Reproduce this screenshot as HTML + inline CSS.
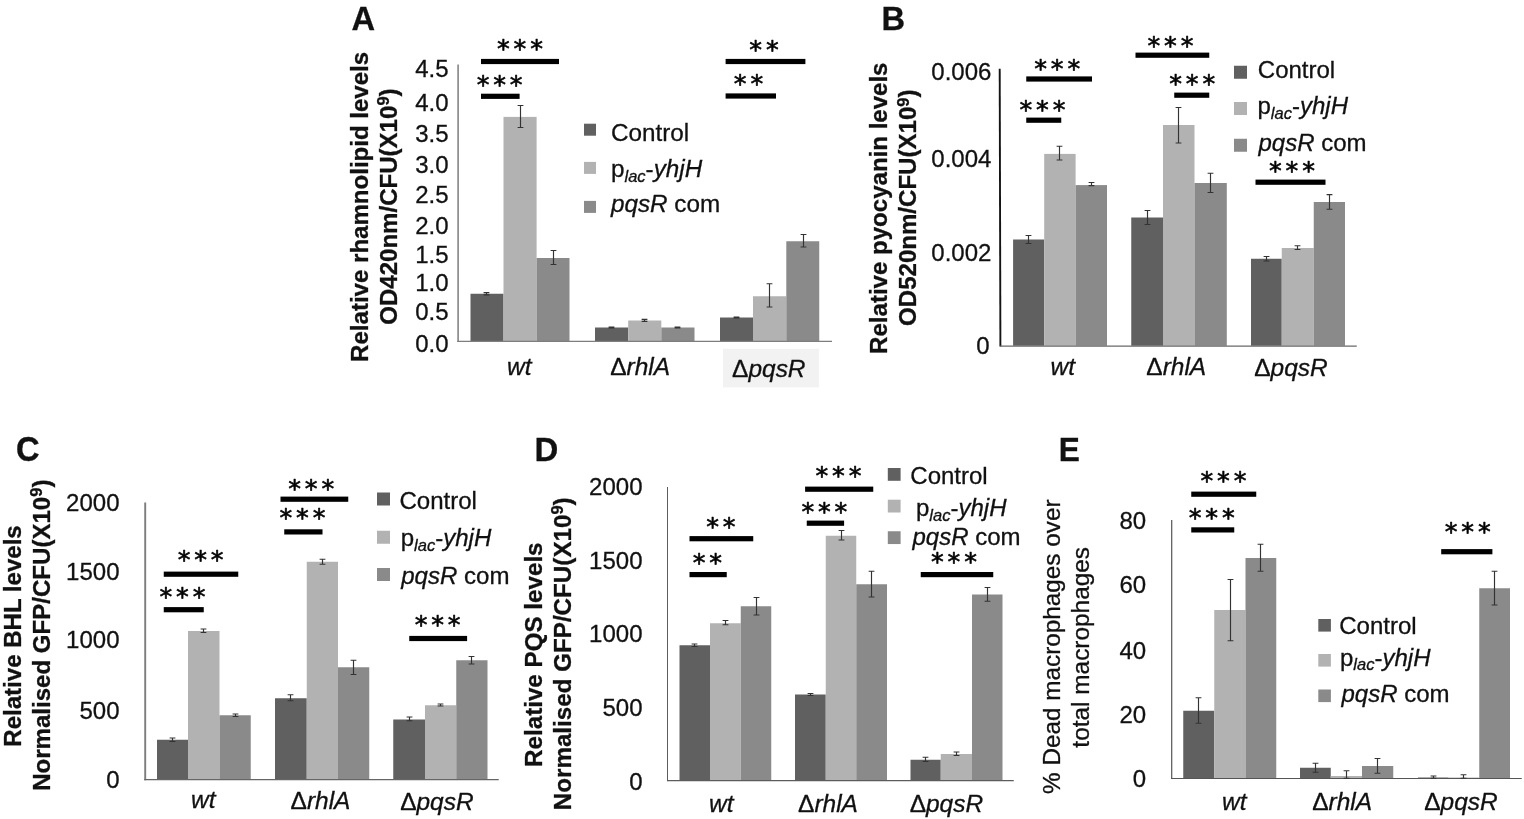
<!DOCTYPE html>
<html lang="en"><head><meta charset="utf-8"><title>Figure</title>
<style>
html,body{margin:0;padding:0;background:#fff;}
body{width:1524px;height:819px;overflow:hidden;font-family:'Liberation Sans', Arial, Helvetica, sans-serif;}
svg{display:block;}
svg text{font-family:'Liberation Sans', Arial, Helvetica, sans-serif;}
</style></head><body>
<svg width="1524" height="819" viewBox="0 0 1524 819">
<rect width="1524" height="819" fill="#ffffff"/>
<text transform="translate(351.50 30.00) scale(0.960 1)" font-size="34" font-weight="bold" fill="#111" stroke="#111" stroke-width="0.3">A</text>
<text transform="translate(368.00 206.85) rotate(-90) scale(1.000 1)" font-size="24.05" text-anchor="middle" font-weight="bold" fill="#111" stroke="#111" stroke-width="0.3">Relative rhamnolipid levels</text>
<text transform="translate(397.00 206.60) rotate(-90) scale(1.000 1)" font-size="24.05" text-anchor="middle" font-weight="bold" fill="#111" stroke="#111" stroke-width="0.3">OD420nm/CFU(X10<tspan font-size="16.5" dy="-7.8">9</tspan><tspan dy="7.8">)</tspan></text>
<rect x="723.00" y="348.75" width="95.90" height="38.65" fill="#f2f2f2"/>
<text transform="translate(448.60 352.10) scale(0.980 1)" font-size="24.5" text-anchor="end" fill="#111" stroke="#111" stroke-width="0.3">0.0</text>
<text transform="translate(448.60 319.70) scale(0.980 1)" font-size="24.5" text-anchor="end" fill="#111" stroke="#111" stroke-width="0.3">0.5</text>
<text transform="translate(448.60 290.60) scale(0.980 1)" font-size="24.5" text-anchor="end" fill="#111" stroke="#111" stroke-width="0.3">1.0</text>
<text transform="translate(448.60 262.70) scale(0.980 1)" font-size="24.5" text-anchor="end" fill="#111" stroke="#111" stroke-width="0.3">1.5</text>
<text transform="translate(448.60 234.30) scale(0.980 1)" font-size="24.5" text-anchor="end" fill="#111" stroke="#111" stroke-width="0.3">2.0</text>
<text transform="translate(448.60 203.40) scale(0.980 1)" font-size="24.5" text-anchor="end" fill="#111" stroke="#111" stroke-width="0.3">2.5</text>
<text transform="translate(448.60 173.40) scale(0.980 1)" font-size="24.5" text-anchor="end" fill="#111" stroke="#111" stroke-width="0.3">3.0</text>
<text transform="translate(448.60 141.60) scale(0.980 1)" font-size="24.5" text-anchor="end" fill="#111" stroke="#111" stroke-width="0.3">3.5</text>
<text transform="translate(448.60 111.00) scale(0.980 1)" font-size="24.5" text-anchor="end" fill="#111" stroke="#111" stroke-width="0.3">4.0</text>
<text transform="translate(448.60 77.30) scale(0.980 1)" font-size="24.5" text-anchor="end" fill="#111" stroke="#111" stroke-width="0.3">4.5</text>
<rect x="470.50" y="293.75" width="33.00" height="47.50" fill="#606060"/>
<rect x="503.50" y="116.90" width="33.10" height="224.35" fill="#b2b2b2"/>
<rect x="536.60" y="258.00" width="32.90" height="83.25" fill="#8a8a8a"/>
<rect x="595.00" y="327.50" width="33.20" height="13.75" fill="#606060"/>
<rect x="628.20" y="320.50" width="33.10" height="20.75" fill="#b2b2b2"/>
<rect x="661.30" y="327.50" width="33.20" height="13.75" fill="#8a8a8a"/>
<rect x="720.00" y="317.50" width="33.00" height="23.75" fill="#606060"/>
<rect x="753.00" y="296.25" width="33.30" height="45.00" fill="#b2b2b2"/>
<rect x="786.30" y="241.25" width="32.95" height="100.00" fill="#8a8a8a"/>
<line x1="458.10" y1="64.50" x2="458.10" y2="341.90" stroke="#858585" stroke-width="1.6"/>
<line x1="457.30" y1="341.40" x2="832.00" y2="341.40" stroke="#7e7e7e" stroke-width="1.1"/>
<path d="M486.50 292.60V294.80M483.60 292.60H489.40M483.60 294.80H489.40" stroke="#333" stroke-width="1.15" fill="none"/>
<path d="M520.50 105.50V127.50M517.60 105.50H523.40M517.60 127.50H523.40" stroke="#333" stroke-width="1.15" fill="none"/>
<path d="M553.50 250.50V264.50M550.60 250.50H556.40M550.60 264.50H556.40" stroke="#333" stroke-width="1.15" fill="none"/>
<path d="M611.50 327.00V328.00M608.60 327.00H614.40M608.60 328.00H614.40" stroke="#333" stroke-width="1.15" fill="none"/>
<path d="M644.50 319.30V321.30M641.60 319.30H647.40M641.60 321.30H647.40" stroke="#333" stroke-width="1.15" fill="none"/>
<path d="M677.50 327.00V328.00M674.60 327.00H680.40M674.60 328.00H680.40" stroke="#333" stroke-width="1.15" fill="none"/>
<path d="M736.50 317.00V318.00M733.60 317.00H739.40M733.60 318.00H739.40" stroke="#333" stroke-width="1.15" fill="none"/>
<path d="M769.50 283.75V307.00M766.60 283.75H772.40M766.60 307.00H772.40" stroke="#333" stroke-width="1.15" fill="none"/>
<path d="M803.50 234.50V247.00M800.60 234.50H806.40M800.60 247.00H806.40" stroke="#333" stroke-width="1.15" fill="none"/>
<text transform="translate(519.25 375.00) scale(1.020 1)" font-size="24" text-anchor="middle" font-style="italic" fill="#111" stroke="#111" stroke-width="0.3">wt</text>
<text transform="translate(640.20 375.00) scale(1.020 1)" font-size="24" text-anchor="middle" fill="#111" stroke="#111" stroke-width="0.3">Δ<tspan font-style="italic">rhlA</tspan></text>
<text transform="translate(768.80 377.20) scale(1.020 1)" font-size="24" text-anchor="middle" fill="#111" stroke="#111" stroke-width="0.3">Δ<tspan font-style="italic">pqsR</tspan></text>
<rect x="584.00" y="123.70" width="12.00" height="12.00" fill="#606060"/>
<rect x="584.00" y="161.90" width="12.00" height="12.00" fill="#b2b2b2"/>
<rect x="584.00" y="200.90" width="12.00" height="12.00" fill="#8a8a8a"/>
<text transform="translate(611.00 140.80) scale(1.000 1)" font-size="24.25" fill="#111" stroke="#111" stroke-width="0.3">Control</text>
<text transform="translate(611.00 177.10) scale(1.000 1)" font-size="24.25" fill="#111" stroke="#111" stroke-width="0.3">p<tspan font-style="italic" font-size="16.5" dy="4.5">lac</tspan><tspan dy="-4.5">-</tspan><tspan font-style="italic">yhjH</tspan></text>
<text transform="translate(611.00 212.40) scale(1.000 1)" font-size="24.25" fill="#111" stroke="#111" stroke-width="0.3"><tspan font-style="italic">pqsR</tspan> com</text>
<rect x="481.00" y="58.90" width="78.00" height="5.20" fill="#000"/>
<text x="521.90" y="57.10" style="font-family:'DejaVu Sans', 'Liberation Sans', sans-serif" font-size="25.5" letter-spacing="3.8" text-anchor="middle" fill="#000" stroke="#000" stroke-width="0.6" stroke-linejoin="round">***</text>
<rect x="481.00" y="93.70" width="38.60" height="5.20" fill="#000"/>
<text x="501.60" y="93.20" style="font-family:'DejaVu Sans', 'Liberation Sans', sans-serif" font-size="25.5" letter-spacing="3.8" text-anchor="middle" fill="#000" stroke="#000" stroke-width="0.6" stroke-linejoin="round">***</text>
<rect x="725.60" y="58.90" width="79.80" height="5.20" fill="#000"/>
<text x="765.90" y="57.50" style="font-family:'DejaVu Sans', 'Liberation Sans', sans-serif" font-size="25.5" letter-spacing="3.8" text-anchor="middle" fill="#000" stroke="#000" stroke-width="0.6" stroke-linejoin="round">**</text>
<rect x="725.60" y="93.40" width="50.40" height="5.20" fill="#000"/>
<text x="750.40" y="92.20" style="font-family:'DejaVu Sans', 'Liberation Sans', sans-serif" font-size="25.5" letter-spacing="3.8" text-anchor="middle" fill="#000" stroke="#000" stroke-width="0.6" stroke-linejoin="round">**</text>
<text transform="translate(881.60 29.80) scale(0.960 1)" font-size="34" font-weight="bold" fill="#111" stroke="#111" stroke-width="0.3">B</text>
<text transform="translate(886.80 208.20) rotate(-90) scale(1.000 1)" font-size="24.05" text-anchor="middle" font-weight="bold" fill="#111" stroke="#111" stroke-width="0.3">Relative pyocyanin levels</text>
<text transform="translate(916.30 207.70) rotate(-90) scale(1.000 1)" font-size="24.05" text-anchor="middle" font-weight="bold" fill="#111" stroke="#111" stroke-width="0.3">OD520nm/CFU(X10<tspan font-size="16.5" dy="-7.8">9</tspan><tspan dy="7.8">)</tspan></text>
<text transform="translate(989.50 354.40) scale(0.980 1)" font-size="24.5" text-anchor="end" fill="#111" stroke="#111" stroke-width="0.3">0</text>
<text transform="translate(991.40 260.90) scale(0.980 1)" font-size="24.5" text-anchor="end" fill="#111" stroke="#111" stroke-width="0.3">0.002</text>
<text transform="translate(991.40 167.40) scale(0.980 1)" font-size="24.5" text-anchor="end" fill="#111" stroke="#111" stroke-width="0.3">0.004</text>
<text transform="translate(991.40 79.90) scale(0.980 1)" font-size="24.5" text-anchor="end" fill="#111" stroke="#111" stroke-width="0.3">0.006</text>
<rect x="1013.10" y="239.50" width="31.10" height="106.25" fill="#606060"/>
<rect x="1044.20" y="153.90" width="31.40" height="191.85" fill="#b2b2b2"/>
<rect x="1075.60" y="185.10" width="31.40" height="160.65" fill="#8a8a8a"/>
<rect x="1131.25" y="217.50" width="31.75" height="128.25" fill="#606060"/>
<rect x="1163.00" y="125.00" width="31.50" height="220.75" fill="#b2b2b2"/>
<rect x="1194.50" y="183.00" width="32.30" height="162.75" fill="#8a8a8a"/>
<rect x="1251.00" y="258.75" width="30.75" height="87.00" fill="#606060"/>
<rect x="1281.75" y="248.00" width="32.00" height="97.75" fill="#b2b2b2"/>
<rect x="1313.75" y="202.00" width="31.25" height="143.75" fill="#8a8a8a"/>
<line x1="999.70" y1="68.75" x2="1000.40" y2="346.60" stroke="#141414" stroke-width="1.9"/>
<line x1="1000.00" y1="346.10" x2="1356.75" y2="346.10" stroke="#686868" stroke-width="1.1"/>
<path d="M1028.50 235.50V243.50M1025.60 235.50H1031.40M1025.60 243.50H1031.40" stroke="#333" stroke-width="1.15" fill="none"/>
<path d="M1059.50 146.25V160.00M1056.60 146.25H1062.40M1056.60 160.00H1062.40" stroke="#333" stroke-width="1.15" fill="none"/>
<path d="M1091.50 182.50V185.60M1088.60 182.50H1094.40M1088.60 185.60H1094.40" stroke="#333" stroke-width="1.15" fill="none"/>
<path d="M1147.50 210.50V224.50M1144.60 210.50H1150.40M1144.60 224.50H1150.40" stroke="#333" stroke-width="1.15" fill="none"/>
<path d="M1178.50 107.50V143.00M1175.60 107.50H1181.40M1175.60 143.00H1181.40" stroke="#333" stroke-width="1.15" fill="none"/>
<path d="M1210.50 173.25V192.50M1207.60 173.25H1213.40M1207.60 192.50H1213.40" stroke="#333" stroke-width="1.15" fill="none"/>
<path d="M1266.50 256.50V261.00M1263.60 256.50H1269.40M1263.60 261.00H1269.40" stroke="#333" stroke-width="1.15" fill="none"/>
<path d="M1297.50 245.75V249.50M1294.60 245.75H1300.40M1294.60 249.50H1300.40" stroke="#333" stroke-width="1.15" fill="none"/>
<path d="M1329.50 194.60V209.25M1326.60 194.60H1332.40M1326.60 209.25H1332.40" stroke="#333" stroke-width="1.15" fill="none"/>
<text transform="translate(1062.75 374.50) scale(1.020 1)" font-size="24" text-anchor="middle" font-style="italic" fill="#111" stroke="#111" stroke-width="0.3">wt</text>
<text transform="translate(1176.25 375.00) scale(1.020 1)" font-size="24" text-anchor="middle" fill="#111" stroke="#111" stroke-width="0.3">Δ<tspan font-style="italic">rhlA</tspan></text>
<text transform="translate(1291.00 376.00) scale(1.020 1)" font-size="24" text-anchor="middle" fill="#111" stroke="#111" stroke-width="0.3">Δ<tspan font-style="italic">pqsR</tspan></text>
<rect x="1234.00" y="65.75" width="13.00" height="13.00" fill="#606060"/>
<rect x="1234.00" y="102.00" width="13.00" height="13.00" fill="#b2b2b2"/>
<rect x="1234.00" y="138.75" width="13.00" height="13.00" fill="#8a8a8a"/>
<text transform="translate(1257.80 77.50) scale(1.000 1)" font-size="24.0" fill="#111" stroke="#111" stroke-width="0.3">Control</text>
<text transform="translate(1257.50 114.10) scale(1.000 1)" font-size="24.0" fill="#111" stroke="#111" stroke-width="0.3">p<tspan font-style="italic" font-size="16.5" dy="4.5">lac</tspan><tspan dy="-4.5">-</tspan><tspan font-style="italic">yhjH</tspan></text>
<text transform="translate(1258.50 150.60) scale(1.000 1)" font-size="24.0" fill="#111" stroke="#111" stroke-width="0.3"><tspan font-style="italic">pqsR</tspan> com</text>
<rect x="1026.25" y="76.40" width="65.75" height="5.20" fill="#000"/>
<text x="1059.15" y="77.10" style="font-family:'DejaVu Sans', 'Liberation Sans', sans-serif" font-size="25.5" letter-spacing="3.8" text-anchor="middle" fill="#000" stroke="#000" stroke-width="0.6" stroke-linejoin="round">***</text>
<rect x="1026.25" y="117.60" width="35.00" height="5.20" fill="#000"/>
<text x="1044.40" y="118.10" style="font-family:'DejaVu Sans', 'Liberation Sans', sans-serif" font-size="25.5" letter-spacing="3.8" text-anchor="middle" fill="#000" stroke="#000" stroke-width="0.6" stroke-linejoin="round">***</text>
<rect x="1135.50" y="52.60" width="73.75" height="5.20" fill="#000"/>
<text x="1172.40" y="54.00" style="font-family:'DejaVu Sans', 'Liberation Sans', sans-serif" font-size="25.5" letter-spacing="3.8" text-anchor="middle" fill="#000" stroke="#000" stroke-width="0.6" stroke-linejoin="round">***</text>
<rect x="1174.25" y="92.60" width="35.00" height="5.20" fill="#000"/>
<text x="1194.15" y="92.10" style="font-family:'DejaVu Sans', 'Liberation Sans', sans-serif" font-size="25.5" letter-spacing="3.8" text-anchor="middle" fill="#000" stroke="#000" stroke-width="0.6" stroke-linejoin="round">***</text>
<rect x="1255.50" y="179.60" width="70.00" height="5.20" fill="#000"/>
<text x="1293.90" y="179.30" style="font-family:'DejaVu Sans', 'Liberation Sans', sans-serif" font-size="25.5" letter-spacing="3.8" text-anchor="middle" fill="#000" stroke="#000" stroke-width="0.6" stroke-linejoin="round">***</text>
<text transform="translate(16.00 461.20) scale(0.940 1)" font-size="34.8" font-weight="bold" fill="#111" stroke="#111" stroke-width="0.3">C</text>
<text transform="translate(20.50 636.00) rotate(-90) scale(1.000 1)" font-size="24.05" text-anchor="middle" font-weight="bold" fill="#111" stroke="#111" stroke-width="0.3">Relative BHL levels</text>
<text transform="translate(49.50 635.20) rotate(-90) scale(1.000 1)" font-size="24.05" text-anchor="middle" font-weight="bold" fill="#111" stroke="#111" stroke-width="0.3">Normalised GFP/CFU(X10<tspan font-size="16.5" dy="-7.8">9</tspan><tspan dy="7.8">)</tspan></text>
<text transform="translate(119.50 787.90) scale(0.980 1)" font-size="24.5" text-anchor="end" fill="#111" stroke="#111" stroke-width="0.3">0</text>
<text transform="translate(119.50 718.60) scale(0.980 1)" font-size="24.5" text-anchor="end" fill="#111" stroke="#111" stroke-width="0.3">500</text>
<text transform="translate(119.50 648.20) scale(0.980 1)" font-size="24.5" text-anchor="end" fill="#111" stroke="#111" stroke-width="0.3">1000</text>
<text transform="translate(119.50 579.70) scale(0.980 1)" font-size="24.5" text-anchor="end" fill="#111" stroke="#111" stroke-width="0.3">1500</text>
<text transform="translate(119.50 510.50) scale(0.980 1)" font-size="24.5" text-anchor="end" fill="#111" stroke="#111" stroke-width="0.3">2000</text>
<rect x="157.00" y="739.75" width="31.00" height="39.75" fill="#606060"/>
<rect x="188.00" y="631.00" width="31.50" height="148.50" fill="#b2b2b2"/>
<rect x="219.50" y="715.25" width="31.25" height="64.25" fill="#8a8a8a"/>
<rect x="275.00" y="698.25" width="31.75" height="81.25" fill="#606060"/>
<rect x="306.75" y="561.75" width="31.25" height="217.75" fill="#b2b2b2"/>
<rect x="338.00" y="667.25" width="31.25" height="112.25" fill="#8a8a8a"/>
<rect x="393.25" y="719.50" width="31.75" height="60.00" fill="#606060"/>
<rect x="425.00" y="705.25" width="31.25" height="74.25" fill="#b2b2b2"/>
<rect x="456.25" y="660.25" width="31.25" height="119.25" fill="#8a8a8a"/>
<line x1="145.20" y1="502.50" x2="145.20" y2="780.30" stroke="#7c7c7c" stroke-width="1.9"/>
<line x1="144.30" y1="779.70" x2="498.75" y2="779.70" stroke="#666" stroke-width="1.2"/>
<path d="M172.50 738.00V741.50M169.60 738.00H175.40M169.60 741.50H175.40" stroke="#333" stroke-width="1.15" fill="none"/>
<path d="M203.50 629.00V632.50M200.60 629.00H206.40M200.60 632.50H206.40" stroke="#333" stroke-width="1.15" fill="none"/>
<path d="M235.50 714.00V716.50M232.60 714.00H238.40M232.60 716.50H238.40" stroke="#333" stroke-width="1.15" fill="none"/>
<path d="M290.50 694.75V700.75M287.60 694.75H293.40M287.60 700.75H293.40" stroke="#333" stroke-width="1.15" fill="none"/>
<path d="M322.50 559.25V564.25M319.60 559.25H325.40M319.60 564.25H325.40" stroke="#333" stroke-width="1.15" fill="none"/>
<path d="M353.50 660.25V674.50M350.60 660.25H356.40M350.60 674.50H356.40" stroke="#333" stroke-width="1.15" fill="none"/>
<path d="M409.50 717.00V720.75M406.60 717.00H412.40M406.60 720.75H412.40" stroke="#333" stroke-width="1.15" fill="none"/>
<path d="M440.50 704.00V706.00M437.60 704.00H443.40M437.60 706.00H443.40" stroke="#333" stroke-width="1.15" fill="none"/>
<path d="M471.50 656.50V664.00M468.60 656.50H474.40M468.60 664.00H474.40" stroke="#333" stroke-width="1.15" fill="none"/>
<text transform="translate(203.25 808.00) scale(1.020 1)" font-size="24" text-anchor="middle" font-style="italic" fill="#111" stroke="#111" stroke-width="0.3">wt</text>
<text transform="translate(320.50 808.50) scale(1.020 1)" font-size="24" text-anchor="middle" fill="#111" stroke="#111" stroke-width="0.3">Δ<tspan font-style="italic">rhlA</tspan></text>
<text transform="translate(436.90 809.50) scale(1.020 1)" font-size="24" text-anchor="middle" fill="#111" stroke="#111" stroke-width="0.3">Δ<tspan font-style="italic">pqsR</tspan></text>
<rect x="377.00" y="492.50" width="13.00" height="13.00" fill="#606060"/>
<rect x="377.00" y="530.75" width="13.00" height="13.00" fill="#b2b2b2"/>
<rect x="377.00" y="568.00" width="13.00" height="13.00" fill="#8a8a8a"/>
<text transform="translate(399.40 508.70) scale(1.000 1)" font-size="24.05" fill="#111" stroke="#111" stroke-width="0.3">Control</text>
<text transform="translate(400.70 546.25) scale(1.000 1)" font-size="24.05" fill="#111" stroke="#111" stroke-width="0.3">p<tspan font-style="italic" font-size="16.5" dy="4.5">lac</tspan><tspan dy="-4.5">-</tspan><tspan font-style="italic">yhjH</tspan></text>
<text transform="translate(401.20 583.75) scale(1.000 1)" font-size="24.05" fill="#111" stroke="#111" stroke-width="0.3"><tspan font-style="italic">pqsR</tspan> com</text>
<rect x="163.75" y="571.60" width="74.50" height="5.20" fill="#000"/>
<text x="202.50" y="567.50" style="font-family:'DejaVu Sans', 'Liberation Sans', sans-serif" font-size="25.5" letter-spacing="3.8" text-anchor="middle" fill="#000" stroke="#000" stroke-width="0.6" stroke-linejoin="round">***</text>
<rect x="163.75" y="607.10" width="40.00" height="5.20" fill="#000"/>
<text x="184.40" y="604.75" style="font-family:'DejaVu Sans', 'Liberation Sans', sans-serif" font-size="25.5" letter-spacing="3.8" text-anchor="middle" fill="#000" stroke="#000" stroke-width="0.6" stroke-linejoin="round">***</text>
<rect x="280.50" y="496.60" width="67.75" height="5.20" fill="#000"/>
<text x="313.15" y="496.50" style="font-family:'DejaVu Sans', 'Liberation Sans', sans-serif" font-size="25.5" letter-spacing="3.8" text-anchor="middle" fill="#000" stroke="#000" stroke-width="0.6" stroke-linejoin="round">***</text>
<rect x="284.25" y="529.30" width="38.25" height="5.20" fill="#000"/>
<text x="304.40" y="525.50" style="font-family:'DejaVu Sans', 'Liberation Sans', sans-serif" font-size="25.5" letter-spacing="3.8" text-anchor="middle" fill="#000" stroke="#000" stroke-width="0.6" stroke-linejoin="round">***</text>
<rect x="409.25" y="635.90" width="57.85" height="5.20" fill="#000"/>
<text x="439.60" y="632.60" style="font-family:'DejaVu Sans', 'Liberation Sans', sans-serif" font-size="25.5" letter-spacing="3.8" text-anchor="middle" fill="#000" stroke="#000" stroke-width="0.6" stroke-linejoin="round">***</text>
<text transform="translate(534.40 460.80) scale(0.970 1)" font-size="34" font-weight="bold" fill="#111" stroke="#111" stroke-width="0.3">D</text>
<text transform="translate(541.70 654.70) rotate(-90) scale(1.000 1)" font-size="24.2" text-anchor="middle" font-weight="bold" fill="#111" stroke="#111" stroke-width="0.3">Relative PQS levels</text>
<text transform="translate(571.25 653.80) rotate(-90) scale(1.000 1)" font-size="24.2" text-anchor="middle" font-weight="bold" fill="#111" stroke="#111" stroke-width="0.3">Normalised GFP/CFU(X10<tspan font-size="16.5" dy="-7.8">9</tspan><tspan dy="7.8">)</tspan></text>
<text transform="translate(642.50 789.50) scale(0.980 1)" font-size="24.5" text-anchor="end" fill="#111" stroke="#111" stroke-width="0.3">0</text>
<text transform="translate(642.50 716.10) scale(0.980 1)" font-size="24.5" text-anchor="end" fill="#111" stroke="#111" stroke-width="0.3">500</text>
<text transform="translate(642.50 641.60) scale(0.980 1)" font-size="24.5" text-anchor="end" fill="#111" stroke="#111" stroke-width="0.3">1000</text>
<text transform="translate(642.50 568.50) scale(0.980 1)" font-size="24.5" text-anchor="end" fill="#111" stroke="#111" stroke-width="0.3">1500</text>
<text transform="translate(642.50 494.60) scale(0.980 1)" font-size="24.5" text-anchor="end" fill="#111" stroke="#111" stroke-width="0.3">2000</text>
<rect x="679.50" y="645.25" width="30.50" height="135.00" fill="#606060"/>
<rect x="710.00" y="623.25" width="30.75" height="157.00" fill="#b2b2b2"/>
<rect x="740.75" y="606.25" width="30.50" height="174.00" fill="#8a8a8a"/>
<rect x="795.00" y="694.50" width="30.75" height="85.75" fill="#606060"/>
<rect x="825.75" y="535.75" width="30.50" height="244.50" fill="#b2b2b2"/>
<rect x="856.25" y="584.25" width="30.75" height="196.00" fill="#8a8a8a"/>
<rect x="910.50" y="759.75" width="30.25" height="20.50" fill="#606060"/>
<rect x="940.75" y="754.00" width="31.25" height="26.25" fill="#b2b2b2"/>
<rect x="972.00" y="594.50" width="30.50" height="185.75" fill="#8a8a8a"/>
<line x1="667.50" y1="487.00" x2="667.50" y2="781.10" stroke="#5c5c5c" stroke-width="1.0"/>
<line x1="667.00" y1="780.60" x2="1013.75" y2="780.60" stroke="#5c5c5c" stroke-width="1.1"/>
<path d="M694.50 644.00V646.50M691.60 644.00H697.40M691.60 646.50H697.40" stroke="#333" stroke-width="1.15" fill="none"/>
<path d="M725.50 620.50V624.70M722.60 620.50H728.40M722.60 624.70H728.40" stroke="#333" stroke-width="1.15" fill="none"/>
<path d="M756.50 597.50V615.00M753.60 597.50H759.40M753.60 615.00H759.40" stroke="#333" stroke-width="1.15" fill="none"/>
<path d="M810.50 693.50V695.50M807.60 693.50H813.40M807.60 695.50H813.40" stroke="#333" stroke-width="1.15" fill="none"/>
<path d="M841.50 530.50V540.00M838.60 530.50H844.40M838.60 540.00H844.40" stroke="#333" stroke-width="1.15" fill="none"/>
<path d="M871.50 571.25V597.00M868.60 571.25H874.40M868.60 597.00H874.40" stroke="#333" stroke-width="1.15" fill="none"/>
<path d="M925.50 757.25V761.50M922.60 757.25H928.40M922.60 761.50H928.40" stroke="#333" stroke-width="1.15" fill="none"/>
<path d="M956.50 752.00V755.50M953.60 752.00H959.40M953.60 755.50H959.40" stroke="#333" stroke-width="1.15" fill="none"/>
<path d="M987.50 587.50V601.25M984.60 587.50H990.40M984.60 601.25H990.40" stroke="#333" stroke-width="1.15" fill="none"/>
<text transform="translate(721.25 811.50) scale(1.020 1)" font-size="24" text-anchor="middle" font-style="italic" fill="#111" stroke="#111" stroke-width="0.3">wt</text>
<text transform="translate(828.00 811.50) scale(1.020 1)" font-size="24" text-anchor="middle" fill="#111" stroke="#111" stroke-width="0.3">Δ<tspan font-style="italic">rhlA</tspan></text>
<text transform="translate(946.40 811.50) scale(1.020 1)" font-size="24" text-anchor="middle" fill="#111" stroke="#111" stroke-width="0.3">Δ<tspan font-style="italic">pqsR</tspan></text>
<rect x="887.80" y="468.00" width="12.80" height="12.80" fill="#606060"/>
<rect x="887.80" y="499.70" width="12.80" height="12.80" fill="#b2b2b2"/>
<rect x="887.80" y="531.25" width="12.80" height="12.80" fill="#8a8a8a"/>
<text transform="translate(910.30 483.60) scale(1.000 1)" font-size="24.0" fill="#111" stroke="#111" stroke-width="0.3">Control</text>
<text transform="translate(916.00 516.25) scale(1.000 1)" font-size="24.0" fill="#111" stroke="#111" stroke-width="0.3">p<tspan font-style="italic" font-size="16.5" dy="4.5">lac</tspan><tspan dy="-4.5">-</tspan><tspan font-style="italic">yhjH</tspan></text>
<text transform="translate(912.50 545.00) scale(1.000 1)" font-size="24.0" fill="#111" stroke="#111" stroke-width="0.3"><tspan font-style="italic">pqsR</tspan> com</text>
<rect x="689.50" y="536.10" width="63.75" height="5.20" fill="#000"/>
<text x="722.80" y="534.50" style="font-family:'DejaVu Sans', 'Liberation Sans', sans-serif" font-size="25.5" letter-spacing="3.8" text-anchor="middle" fill="#000" stroke="#000" stroke-width="0.6" stroke-linejoin="round">**</text>
<rect x="689.50" y="572.00" width="37.25" height="5.20" fill="#000"/>
<text x="709.30" y="570.90" style="font-family:'DejaVu Sans', 'Liberation Sans', sans-serif" font-size="25.5" letter-spacing="3.8" text-anchor="middle" fill="#000" stroke="#000" stroke-width="0.6" stroke-linejoin="round">**</text>
<rect x="805.10" y="486.60" width="68.15" height="5.20" fill="#000"/>
<text x="840.40" y="483.90" style="font-family:'DejaVu Sans', 'Liberation Sans', sans-serif" font-size="25.5" letter-spacing="3.8" text-anchor="middle" fill="#000" stroke="#000" stroke-width="0.6" stroke-linejoin="round">***</text>
<rect x="806.75" y="520.60" width="37.35" height="5.20" fill="#000"/>
<text x="826.30" y="520.00" style="font-family:'DejaVu Sans', 'Liberation Sans', sans-serif" font-size="25.5" letter-spacing="3.8" text-anchor="middle" fill="#000" stroke="#000" stroke-width="0.6" stroke-linejoin="round">***</text>
<rect x="920.75" y="572.00" width="72.50" height="5.20" fill="#000"/>
<text x="955.90" y="570.10" style="font-family:'DejaVu Sans', 'Liberation Sans', sans-serif" font-size="25.5" letter-spacing="3.8" text-anchor="middle" fill="#000" stroke="#000" stroke-width="0.6" stroke-linejoin="round">***</text>
<text transform="translate(1058.80 460.80) scale(0.930 1)" font-size="34" font-weight="bold" fill="#111" stroke="#111" stroke-width="0.3">E</text>
<text transform="translate(1060.40 646.70) rotate(-90) scale(1.000 1)" font-size="24.3" text-anchor="middle" fill="#111" stroke="#111" stroke-width="0.3">% Dead macrophages over</text>
<text transform="translate(1089.00 647.30) rotate(-90) scale(1.000 1)" font-size="24.4" text-anchor="middle" fill="#111" stroke="#111" stroke-width="0.3">total macrophages</text>
<text transform="translate(1146.20 787.10) scale(0.980 1)" font-size="24.5" text-anchor="end" fill="#111" stroke="#111" stroke-width="0.3">0</text>
<text transform="translate(1146.20 723.20) scale(0.980 1)" font-size="24.5" text-anchor="end" fill="#111" stroke="#111" stroke-width="0.3">20</text>
<text transform="translate(1146.20 658.80) scale(0.980 1)" font-size="24.5" text-anchor="end" fill="#111" stroke="#111" stroke-width="0.3">40</text>
<text transform="translate(1146.20 592.90) scale(0.980 1)" font-size="24.5" text-anchor="end" fill="#111" stroke="#111" stroke-width="0.3">60</text>
<text transform="translate(1146.20 528.50) scale(0.980 1)" font-size="24.5" text-anchor="end" fill="#111" stroke="#111" stroke-width="0.3">80</text>
<rect x="1183.25" y="710.75" width="31.00" height="67.50" fill="#606060"/>
<rect x="1214.25" y="610.00" width="31.25" height="168.25" fill="#b2b2b2"/>
<rect x="1245.50" y="558.00" width="30.75" height="220.25" fill="#8a8a8a"/>
<rect x="1300.00" y="767.75" width="30.75" height="10.50" fill="#606060"/>
<rect x="1330.75" y="776.00" width="31.25" height="2.25" fill="#b2b2b2"/>
<rect x="1362.00" y="766.00" width="31.25" height="12.25" fill="#8a8a8a"/>
<rect x="1418.00" y="777.50" width="30.50" height="0.75" fill="#606060"/>
<rect x="1448.50" y="777.50" width="30.75" height="0.75" fill="#b2b2b2"/>
<rect x="1479.25" y="588.25" width="30.75" height="190.00" fill="#8a8a8a"/>
<line x1="1171.70" y1="520.00" x2="1171.70" y2="779.10" stroke="#555" stroke-width="1.2"/>
<line x1="1171.10" y1="778.50" x2="1521.75" y2="778.50" stroke="#555" stroke-width="1.2"/>
<path d="M1198.50 697.75V723.25M1195.60 697.75H1201.40M1195.60 723.25H1201.40" stroke="#333" stroke-width="1.15" fill="none"/>
<path d="M1230.50 579.50V640.75M1227.60 579.50H1233.40M1227.60 640.75H1233.40" stroke="#333" stroke-width="1.15" fill="none"/>
<path d="M1260.50 544.25V571.25M1257.60 544.25H1263.40M1257.60 571.25H1263.40" stroke="#333" stroke-width="1.15" fill="none"/>
<path d="M1315.50 763.25V772.25M1312.60 763.25H1318.40M1312.60 772.25H1318.40" stroke="#333" stroke-width="1.15" fill="none"/>
<path d="M1346.50 770.75V778.20M1343.60 770.75H1349.40M1343.60 778.20H1349.40" stroke="#333" stroke-width="1.15" fill="none"/>
<path d="M1377.50 758.50V773.25M1374.60 758.50H1380.40M1374.60 773.25H1380.40" stroke="#333" stroke-width="1.15" fill="none"/>
<path d="M1433.50 776.00V778.20M1430.60 776.00H1436.40M1430.60 778.20H1436.40" stroke="#333" stroke-width="1.15" fill="none"/>
<path d="M1463.50 774.75V778.20M1460.60 774.75H1466.40M1460.60 778.20H1466.40" stroke="#333" stroke-width="1.15" fill="none"/>
<path d="M1494.50 571.25V605.00M1491.60 571.25H1497.40M1491.60 605.00H1497.40" stroke="#333" stroke-width="1.15" fill="none"/>
<text transform="translate(1234.25 809.50) scale(1.020 1)" font-size="24" text-anchor="middle" font-style="italic" fill="#111" stroke="#111" stroke-width="0.3">wt</text>
<text transform="translate(1342.20 809.50) scale(1.020 1)" font-size="24" text-anchor="middle" fill="#111" stroke="#111" stroke-width="0.3">Δ<tspan font-style="italic">rhlA</tspan></text>
<text transform="translate(1461.00 810.00) scale(1.020 1)" font-size="24" text-anchor="middle" fill="#111" stroke="#111" stroke-width="0.3">Δ<tspan font-style="italic">pqsR</tspan></text>
<rect x="1318.30" y="619.00" width="12.60" height="12.60" fill="#606060"/>
<rect x="1318.30" y="654.00" width="12.60" height="12.60" fill="#b2b2b2"/>
<rect x="1318.30" y="689.50" width="12.60" height="12.60" fill="#8a8a8a"/>
<text transform="translate(1339.20 634.00) scale(1.000 1)" font-size="24.0" fill="#111" stroke="#111" stroke-width="0.3">Control</text>
<text transform="translate(1340.00 665.60) scale(1.000 1)" font-size="24.0" fill="#111" stroke="#111" stroke-width="0.3">p<tspan font-style="italic" font-size="16.5" dy="4.5">lac</tspan><tspan dy="-4.5">-</tspan><tspan font-style="italic">yhjH</tspan></text>
<text transform="translate(1341.50 702.00) scale(1.000 1)" font-size="24.0" fill="#111" stroke="#111" stroke-width="0.3"><tspan font-style="italic">pqsR</tspan> com</text>
<rect x="1191.25" y="491.60" width="65.00" height="5.20" fill="#000"/>
<text x="1225.40" y="488.50" style="font-family:'DejaVu Sans', 'Liberation Sans', sans-serif" font-size="25.5" letter-spacing="3.8" text-anchor="middle" fill="#000" stroke="#000" stroke-width="0.6" stroke-linejoin="round">***</text>
<rect x="1191.25" y="527.30" width="43.00" height="5.20" fill="#000"/>
<text x="1213.65" y="525.50" style="font-family:'DejaVu Sans', 'Liberation Sans', sans-serif" font-size="25.5" letter-spacing="3.8" text-anchor="middle" fill="#000" stroke="#000" stroke-width="0.6" stroke-linejoin="round">***</text>
<rect x="1441.20" y="549.10" width="51.20" height="5.20" fill="#000"/>
<text x="1469.65" y="539.90" style="font-family:'DejaVu Sans', 'Liberation Sans', sans-serif" font-size="25.5" letter-spacing="3.8" text-anchor="middle" fill="#000" stroke="#000" stroke-width="0.6" stroke-linejoin="round">***</text>
</svg>
</body></html>
